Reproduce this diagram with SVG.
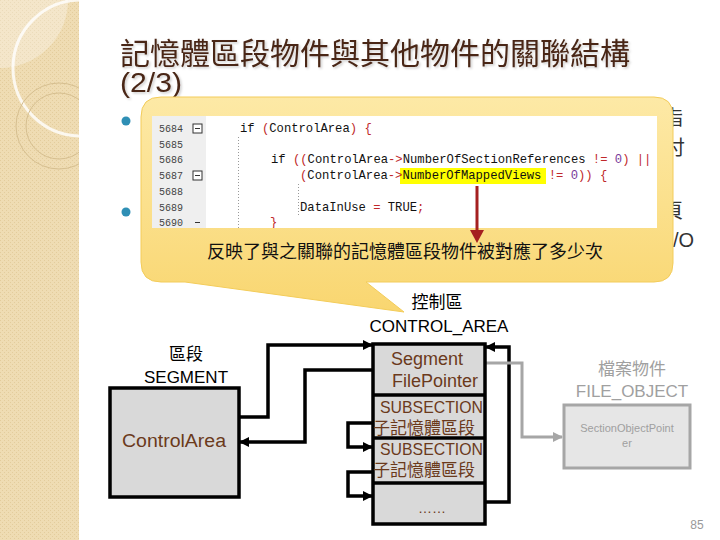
<svg xmlns="http://www.w3.org/2000/svg" width="720" height="540" viewBox="0 0 720 540">
<defs>
<style>
.cjk{font-family:"Liberation Sans","Noto Sans CJK TC",sans-serif}
.lbl{font-family:"Liberation Sans","Noto Sans CJK TC",sans-serif;font-size:17px;fill:#000;text-anchor:middle}
.brn{font-family:"Liberation Sans","Noto Sans CJK TC",sans-serif;fill:#6b3a1c}
.code{font-family:"Liberation Mono",monospace;font-size:12.2px;fill:#111}
.r{fill:#c0282a}
.p{fill:#7a3a9a}
.ln{font-family:"Liberation Mono",monospace;font-size:10px;fill:#444}
.box{fill:#d9d9d9;stroke:#000;stroke-width:3.5}
.wire{fill:none;stroke:#000;stroke-width:3.5}
.gwire{fill:none;stroke:#a6a6a6;stroke-width:3}
.dot{stroke:#999;stroke-width:1;stroke-dasharray:1 2}
</style>
<pattern id="tex" width="4" height="4" patternUnits="userSpaceOnUse">
<rect width="4" height="4" fill="#efdcb3"/>
<rect x="0" y="0" width="1" height="1" fill="#e3cc9c"/>
<rect x="2" y="2" width="1" height="1" fill="#e3cc9c"/>
</pattern>
<clipPath id="strip"><rect x="0" y="0" width="79" height="540"/></clipPath>
<clipPath id="shot"><rect x="152" y="116" width="505" height="112"/></clipPath>
<linearGradient id="cg" x1="0" y1="0" x2="0" y2="1">
<stop offset="0" stop-color="#fde9a6"/>
<stop offset="0.5" stop-color="#fbe08c"/>
<stop offset="1" stop-color="#f9d670"/>
</linearGradient>
<filter id="sh" x="-5%" y="-20%" width="110%" height="140%">
<feDropShadow dx="1.5" dy="1.5" stdDeviation="0.8" flood-color="#000" flood-opacity="0.2"/>
</filter>
<marker id="ah" markerWidth="10" markerHeight="10" refX="9" refY="5" orient="auto" markerUnits="userSpaceOnUse">
<path d="M0,0 L10,5 L0,10 Z" fill="#000"/>
</marker>
<marker id="gah" markerWidth="10" markerHeight="10" refX="9" refY="5" orient="auto" markerUnits="userSpaceOnUse">
<path d="M0,0 L10,5 L0,10 Z" fill="#a6a6a6"/>
</marker>
</defs>

<rect width="720" height="540" fill="#fff"/>

<!-- left decorative strip -->
<g id="strip-deco" clip-path="url(#strip)">
<rect x="0" y="0" width="79" height="540" fill="url(#tex)"/>
<circle cx="0" cy="0" r="68" fill="#fff" fill-opacity="0.3"/>
<circle cx="81" cy="68" r="68" fill="none" stroke="#fff" stroke-opacity="0.8" stroke-width="3"/>
<circle cx="59" cy="126" r="43" fill="none" stroke="#d6bf90" stroke-width="1"/>
<circle cx="59" cy="126" r="33" fill="none" stroke="#d6bf90" stroke-width="1"/>
</g>

<!-- title -->
<g id="title" filter="url(#sh)">
<text x="120" y="64" class="cjk" font-size="30" fill="#4a2818">記憶體區段物件與其他物件的關聯結構</text>
<text x="120" y="92" class="cjk" font-size="27" fill="#4a2818" textLength="62" lengthAdjust="spacingAndGlyphs">(2/3)</text>
</g>

<!-- background bullets (mostly hidden) -->
<g id="bullets">
<circle cx="126" cy="121" r="4.5" fill="#2f8fb5"/>
<circle cx="126" cy="212" r="4.5" fill="#2f8fb5"/>
<text x="683" y="125" class="cjk" font-size="20" fill="#333" text-anchor="end">指</text>
<text x="685" y="155" class="cjk" font-size="20" fill="#333" text-anchor="end">付</text>
<text x="683" y="218" class="cjk" font-size="20" fill="#333" text-anchor="end">頁</text>
<text x="694" y="247" class="cjk" font-size="20" fill="#333" text-anchor="end">I/O</text>
</g>

<!-- callout -->
<g id="callout">
<path d="M161,97 H654 Q673,97 673,116 V263 Q673,282 654,282 H366 L404,312 L185,282 H161 Q141,282 141,262 V117 Q141,97 161,97 Z" fill="url(#cg)" stroke="#f3cc5a" stroke-width="1"/>
<g id="screenshot" clip-path="url(#shot)">
<rect x="152" y="116" width="505" height="112" fill="#fff"/>
<rect x="152" y="116" width="54" height="112" fill="#efefef"/>
<text class="ln" x="159" y="132">5684</text>
<text class="ln" x="159" y="148">5685</text>
<text class="ln" x="159" y="163">5686</text>
<text class="ln" x="159" y="179">5687</text>
<text class="ln" x="159" y="195">5688</text>
<text class="ln" x="159" y="211">5689</text>
<text class="ln" x="159" y="226">5690</text>
<rect x="193" y="124" width="9" height="9" fill="#fff" stroke="#333" stroke-width="1"/>
<line x1="195" y1="128.5" x2="200" y2="128.5" stroke="#333" stroke-width="1"/>
<rect x="193" y="171" width="9" height="9" fill="#fff" stroke="#333" stroke-width="1"/>
<line x1="195" y1="175.5" x2="200" y2="175.5" stroke="#333" stroke-width="1"/>
<line x1="195" y1="222.5" x2="200" y2="222.5" stroke="#333" stroke-width="1"/>
<line class="dot" x1="238.5" y1="137" x2="238.5" y2="228"/>
<line class="dot" x1="298.5" y1="184" x2="298.5" y2="215"/>
<rect x="400" y="168" width="146" height="16" fill="#ffff00"/>
<text class="code" x="240" y="132">if <tspan class="r">(</tspan>ControlArea<tspan class="r">)</tspan> <tspan class="r">{</tspan></text>
<text class="code" x="271" y="163">if <tspan class="r">((</tspan>ControlArea<tspan class="r">-&gt;</tspan>NumberOfSectionReferences <tspan class="r">!=</tspan> <tspan class="p">0</tspan><tspan class="r">)</tspan> <tspan class="r">||</tspan></text>
<text class="code" x="300" y="179"><tspan class="r">(</tspan>ControlArea<tspan class="r">-&gt;</tspan>NumberOfMappedViews <tspan class="r">!=</tspan> <tspan class="p">0</tspan><tspan class="r">))</tspan> <tspan class="r">{</tspan></text>
<text class="code" x="300" y="211">DataInUse <tspan class="r">=</tspan> TRUE<tspan class="r">;</tspan></text>
<text class="code r" x="270" y="226">}</text>
</g>
<line x1="477" y1="186" x2="477" y2="232" stroke="#a52020" stroke-width="3"/>
<path d="M470,230 L484,230 L477,243 Z" fill="#a52020"/>
<text x="405" y="258" class="cjk" font-size="18" fill="#111" text-anchor="middle">反映了與之關聯的記憶體區段物件被對應了多少次</text>
</g>

<!-- connectors -->
<g id="connectors">
<path class="wire" d="M239,417 H268 V345 H372" marker-end="url(#ah)"/>
<path class="wire" d="M373,370 H305 V442 H240" marker-end="url(#ah)"/>
<path class="wire" d="M373,423 H348 V447 H372" marker-end="url(#ah)"/>
<path class="wire" d="M373,472 H348 V496 H372" marker-end="url(#ah)"/>
<path class="wire" d="M485,502 H509 V347 H486" marker-end="url(#ah)"/>
<path class="gwire" d="M485,363 H522 V437 H562" marker-end="url(#gah)"/>
</g>

<!-- SEGMENT node -->
<g id="segment">
<text class="lbl" x="186" y="360">區段</text>
<text class="lbl" x="186" y="383">SEGMENT</text>
<rect class="box" x="110" y="388" width="129" height="109"/>
<text class="brn" x="174" y="447" font-size="18" text-anchor="middle" textLength="104" lengthAdjust="spacingAndGlyphs">ControlArea</text>
</g>

<!-- CONTROL_AREA node -->
<g id="control-area">
<text class="lbl" x="437" y="308">控制區</text>
<text class="lbl" x="439" y="332">CONTROL_AREA</text>
<rect class="box" x="373" y="344" width="112" height="180"/>
<line x1="373" y1="395" x2="485" y2="395" stroke="#000" stroke-width="3.5"/>
<line x1="373" y1="438" x2="485" y2="438" stroke="#000" stroke-width="3.5"/>
<line x1="373" y1="483" x2="485" y2="483" stroke="#000" stroke-width="3.5"/>
<text class="brn" x="427" y="365" font-size="18" text-anchor="middle">Segment</text>
<text class="brn" x="435" y="387" font-size="18" text-anchor="middle">FilePointer</text>
<text class="brn" x="380" y="413" font-size="17" textLength="103" lengthAdjust="spacingAndGlyphs">SUBSECTION</text>
<text class="brn" x="373" y="434" font-size="17">子記憶體區段</text>
<text class="brn" x="380" y="455" font-size="17" textLength="103" lengthAdjust="spacingAndGlyphs">SUBSECTION</text>
<text class="brn" x="373" y="476" font-size="17">子記憶體區段</text>
<text class="brn" x="432" y="513" font-size="14" text-anchor="middle">……</text>
</g>

<!-- FILE_OBJECT node -->
<g id="file-object">
<text x="632" y="375" class="cjk" font-size="17" fill="#a0a0a0" text-anchor="middle">檔案物件</text>
<text x="632" y="397" class="cjk" font-size="17" fill="#a0a0a0" text-anchor="middle">FILE_OBJECT</text>
<rect x="564" y="405" width="126" height="63" fill="#e6e6e6" stroke="#a6a6a6" stroke-width="3"/>
<text x="627" y="432" class="cjk" font-size="11" fill="#a0a0a0" text-anchor="middle">SectionObjectPoint</text>
<text x="627" y="447" class="cjk" font-size="11" fill="#a0a0a0" text-anchor="middle">er</text>
</g>

<text x="697" y="529" class="cjk" font-size="12" fill="#999" text-anchor="middle">85</text>
</svg>
